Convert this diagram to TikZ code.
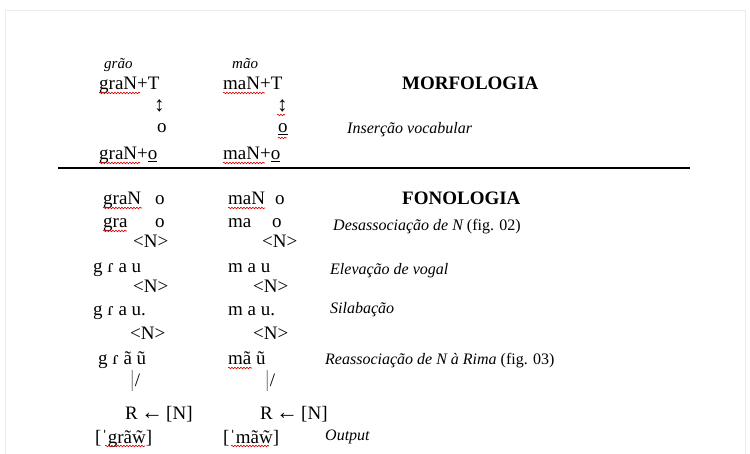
\documentclass[tikz,border=0pt]{standalone}
\usepackage{fontspec}
\setmainfont{Liberation Serif}
\usetikzlibrary{decorations.pathmorphing}

\tikzset{
  form/.style={anchor=base west, inner sep=0pt, font=\fontsize{19}{21}\selectfont},
  gloss/.style={anchor=base west, inner sep=0pt, font=\fontsize{15}{17}\selectfont\itshape},
  rulename/.style={anchor=base west, inner sep=0pt, font=\fontsize{16}{18}\selectfont},
  heading/.style={anchor=base west, inner sep=0pt, font=\fontsize{19}{21}\selectfont\bfseries},
  spell/.style={red!85!black, line width=0.6pt, decorate,
    decoration={snake, amplitude=0.8pt, segment length=3pt}}
}

\begin{document}
\begin{tikzpicture}[x=1pt,y=-1pt]
        \useasboundingbox (0,0) rectangle (750,454);
        \draw [black!8] (5,454) -- (5,10) -- (745,10) -- (745,454);
        % morfologia
        \node [gloss] (graoGloss) at (104,69) {grão};
        \node [gloss] (maoGloss) at (232,69) {mão};
        \node [form] (graT) at (99,90) {graN+T};
        \node [form] (maT) at (223,90) {maN+T};
        \node [heading] (morfo) at (402,90) {MORFOLOGIA};
        \node [form, font=\fontsize{21}{23}\selectfont\bfseries] (graArr) at (154,112) {↕};
        \node [form, font=\fontsize{21}{23}\selectfont\bfseries] (maArr) at (277,112) {↕};
        \node [form] (graO) at (157,133) {o};
        \node [form] (maO) at (278,133) {\underline{o}};
        \node [rulename] (insercao) at (347,134) {\itshape Inserção vocabular};
        \node [form] (graNo) at (99,160) {graN+\underline{o}};
        \node [form] (maNo) at (223,160) {maN+\underline{o}};
        \draw [line width=2.5pt] (58,168) -- (690,168);
        % fonologia
        \node [form] (graN) at (103,205) {graN};
        \node [form] (graNO) at (155,205) {o};
        \node [form] (maN) at (228,205) {maN};
        \node [form] (maNO) at (275,205) {o};
        \node [heading] (fono) at (402,205) {FONOLOGIA};
        \node [form] (gra) at (103,228) {gra};
        \node [form] (graOb) at (155,228) {o};
        \node [form] (ma) at (228,228) {ma};
        \node [form] (maOb) at (272,228) {o};
        \node [rulename] (desassoc) at (333,231) {\itshape Desassociação de N\upshape\ (fig. 02)};
        \node [form] (graNa) at (133,248) {<N>};
        \node [form] (maNa) at (262,248) {<N>};
        \node [form] (grau) at (93,273) {g ɾ a u};
        \node [form] (mau) at (228,273) {m a u};
        \node [rulename] (elevacao) at (330,275) {\itshape Elevação de vogal};
        \node [form] (graNb) at (133,293) {<N>};
        \node [form] (maNb) at (253,293) {<N>};
        \node [form] (grauSil) at (93,316) {g ɾ a u.};
        \node [form] (mauSil) at (228,316) {m a u.};
        \node [rulename] (silabacao) at (330,314) {\itshape Silabação};
        \node [form] (graNc) at (130,340) {<N>};
        \node [form] (maNc) at (253,340) {<N>};
        \node [form] (graNasal) at (98,365) {g ɾ ã ũ};
        \node [form] (maNasal) at (228,365) {mã ũ};
        \node [rulename] (reassoc) at (325,365) {\itshape Reassociação de N à Rima\upshape\ (fig. 03)};
        \node [form] (graLink) at (130,386) {{\fontsize{23}{25}\selectfont\color{black!45}|}/};
        \node [form] (maLink) at (265,386) {{\fontsize{23}{25}\selectfont\color{black!45}|}/};
        \node [form] (graRime) at (125,420) {R\,{\fontsize{22}{24}\selectfont\bfseries ←}\,[N]};
        \node [form] (maRime) at (260,420) {R\,{\fontsize{22}{24}\selectfont\bfseries ←}\,[N]};
        \node [form] (graOut) at (95,443) {[ˈgrãw̃]};
        \node [form] (maOut) at (223,443) {[ˈmãw̃]};
        \node [rulename] (output) at (325,440) {\itshape Output};
        % marcas do corretor
        \draw [spell] ([yshift=-3pt]graT.base west) -- ++(41,0);
        \draw [spell] ([yshift=-3pt]maT.base west) -- ++(42,0);
        \draw [spell] ([yshift=-3pt]maArr.base west) -- ++(8,0);
        \draw [spell] ([yshift=-5pt]maO.base west) -- ++(9,0);
        \draw [spell] ([yshift=-3pt]graNo.base west) -- ++(41,0);
        \draw [spell] ([yshift=-3pt]maNo.base west) -- ++(42,0);
        \draw [spell] ([yshift=-3pt]graN.base west) -- ++(39,0);
        \draw [spell] ([yshift=-3pt]gra.base west) -- ++(24,0);
        \draw [spell] ([yshift=-3pt]maN.base west) -- ++(37,0);
        \draw [spell] ([yshift=-3pt]maNasal.base west) -- ++(24,0);
        \draw [spell] ([xshift=10pt,yshift=-3pt]graOut.base west) -- ++(40,0);
        \draw [spell] ([xshift=8pt,yshift=-3pt]maOut.base west) -- ++(38,0);
    \end{tikzpicture}
\end{document}
